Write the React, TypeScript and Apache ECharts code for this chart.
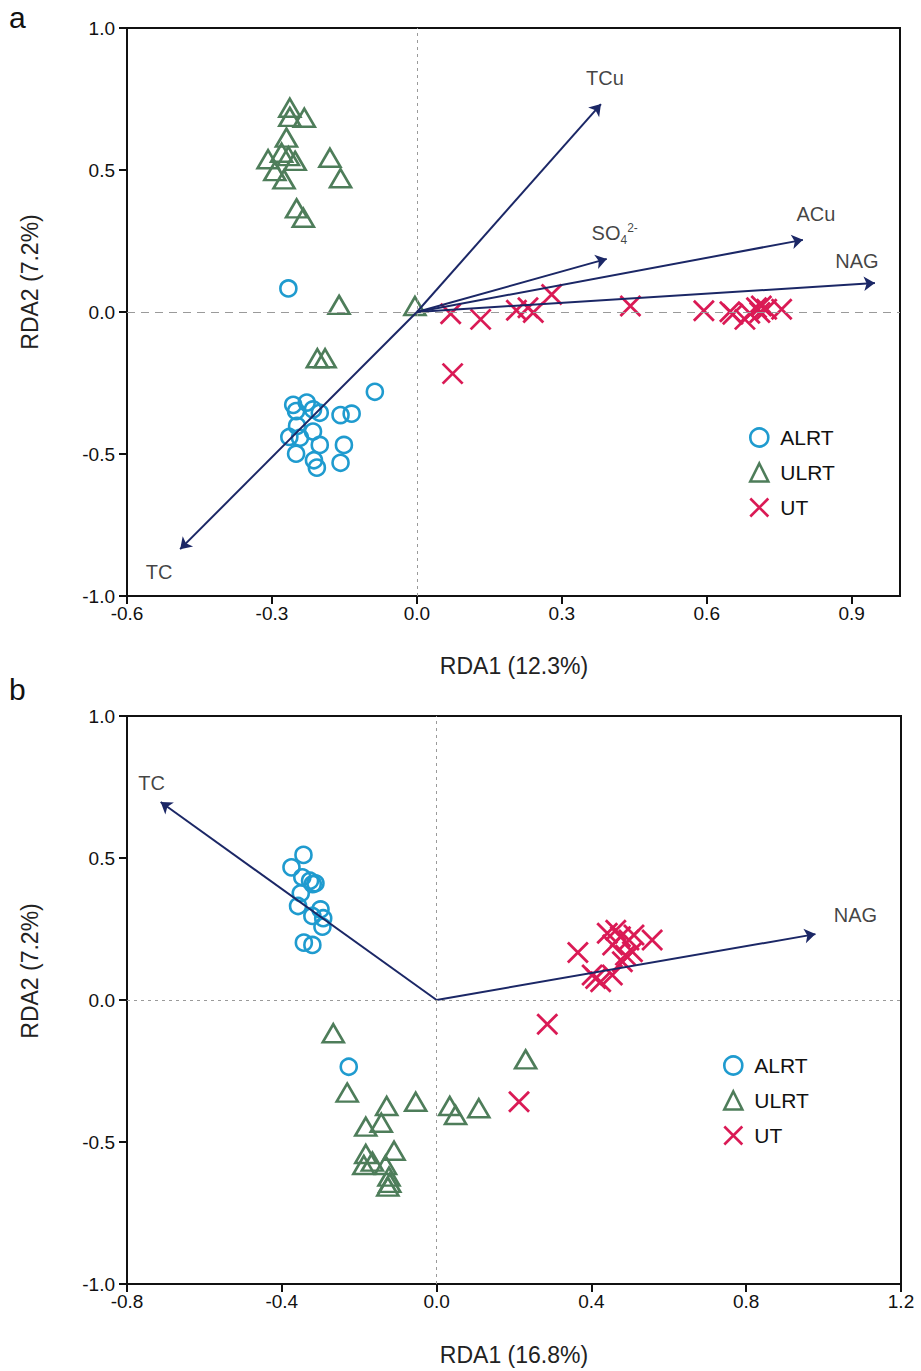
import React, { useEffect, useRef } from 'react';
import * as echarts from 'echarts';

// ---------- data: panel a ----------
const seriesNames = ['ALRT', 'ULRT', 'UT'];

const aALRT: number[][] = [
  [-0.266, 0.083], [-0.087, -0.281], [-0.256, -0.327], [-0.228, -0.319], [-0.215, -0.343],
  [-0.201, -0.355], [-0.25, -0.349], [-0.158, -0.363], [-0.135, -0.358], [-0.248, -0.401],
  [-0.215, -0.421], [-0.264, -0.44], [-0.242, -0.443], [-0.201, -0.468], [-0.25, -0.499],
  [-0.213, -0.522], [-0.207, -0.548], [-0.151, -0.468], [-0.158, -0.531],
];
const aULRT: number[][] = [
  [-0.263, 0.719], [-0.263, 0.687], [-0.233, 0.684], [-0.27, 0.614], [-0.308, 0.538],
  [-0.28, 0.561], [-0.266, 0.549], [-0.252, 0.532], [-0.294, 0.496], [-0.275, 0.467],
  [-0.18, 0.543], [-0.158, 0.471], [-0.249, 0.365], [-0.235, 0.332], [-0.161, 0.025],
  [-0.004, 0.021], [-0.206, -0.163], [-0.19, -0.163],
];
const aUT: number[][] = [
  [0.07, -0.006], [0.132, -0.026], [0.206, 0.006], [0.23, 0.015], [0.241, -0.002],
  [0.279, 0.062], [0.442, 0.021], [0.594, 0.004], [0.648, 0.001], [0.654, -0.008],
  [0.679, -0.026], [0.689, -0.004], [0.703, 0.015], [0.713, 0.021], [0.71, -0.002],
  [0.724, 0.01], [0.755, 0.01], [0.074, -0.217],
];
const aEnvNames = ['TCu', 'SO4', 'ACu', 'NAG', 'TC'];
const aEnvTips: number[][] = [
  [0.381, 0.732], [0.393, 0.187], [0.799, 0.254], [0.948, 0.102], [-0.49, -0.835],
];
const aLabelOffsets: number[][] = [[4, -26], [8, -26], [13, -26], [-18, -22], [-21, 23]];
const aXTicks = [-0.6, -0.3, 0, 0.3, 0.6, 0.9];

// ---------- data: panel b ----------
const bALRT: number[][] = [
  [-0.344, 0.511], [-0.375, 0.467], [-0.347, 0.432], [-0.327, 0.42], [-0.313, 0.411],
  [-0.32, 0.408], [-0.351, 0.376], [-0.358, 0.331], [-0.3, 0.319], [-0.321, 0.296],
  [-0.293, 0.288], [-0.295, 0.258], [-0.343, 0.202], [-0.321, 0.194], [-0.227, -0.235],
];
const bULRT: number[][] = [
  [-0.267, -0.117], [-0.231, -0.326], [-0.129, -0.373], [-0.054, -0.358], [0.034, -0.373],
  [0.049, -0.405], [0.109, -0.381], [0.23, -0.209], [-0.183, -0.446], [-0.143, -0.432],
  [-0.183, -0.542], [-0.166, -0.569], [-0.11, -0.531], [-0.132, -0.581], [-0.188, -0.581],
  [-0.123, -0.622], [-0.126, -0.657], [-0.121, -0.644],
];
const bUT: number[][] = [
  [0.365, 0.167], [0.441, 0.235], [0.463, 0.246], [0.475, 0.223], [0.497, 0.211],
  [0.51, 0.229], [0.557, 0.211], [0.488, 0.158], [0.506, 0.17], [0.48, 0.135],
  [0.411, 0.076], [0.402, 0.088], [0.454, 0.088], [0.424, 0.064], [0.455, 0.194],
  [0.286, -0.085], [0.213, -0.358],
];
const bEnvNames = ['TC', 'NAG'];
const bEnvTips: number[][] = [[-0.713, 0.697], [0.979, 0.232]];
const bLabelOffsets: number[][] = [[-9, -19], [40, -19]];

// ---------- style ----------
const FONT = '"Liberation Sans", Arial, sans-serif';
const BLUE = '#1f9bcf';
const GREEN = '#4e7d5a';
const RED = '#da1a55';
const NAVY = '#1b2766';
const CROSS = 'path://M0,0L20,20M20,0L0,20';

function pointSeries(name: string, data: number[][], gi: number, withZero: boolean) {
  const symbol = name === 'ALRT' ? 'circle' : name === 'ULRT' ? 'triangle' : CROSS;
  const size = name === 'ALRT' ? 16 : name === 'ULRT' ? [21, 18] : 20;
  const color = name === 'ALRT' ? BLUE : name === 'ULRT' ? GREEN : RED;
  const s: any = {
    type: 'scatter',
    name,
    data,
    xAxisIndex: gi,
    yAxisIndex: gi,
    symbol,
    symbolSize: size,
    itemStyle: { color: 'rgba(0,0,0,0)', borderColor: color, borderWidth: name === 'UT' ? 2.8 : 2.6, opacity: 1 },
    emphasis: { disabled: true },
    silent: true,
    z: 3,
  };
  if (withZero) {
    s.markLine = {
      silent: true,
      symbol: 'none',
      label: { show: false },
      emphasis: { disabled: true },
      data: [
        { yAxis: 0, lineStyle: { color: '#9a9a9a', width: 1, type: gi === 0 ? [8, 6] : [3, 4] } },
        { xAxis: 0, lineStyle: { color: '#9a9a9a', width: 1, type: [3, 4] } },
      ],
    };
  }
  return s;
}

function arrowSeries(tips: number[][], gi: number) {
  return {
    type: 'lines',
    coordinateSystem: 'cartesian2d',
    xAxisIndex: gi,
    yAxisIndex: gi,
    data: tips.map((t) => ({ coords: [[0, 0], t] })),
    symbol: ['none', 'arrow'],
    symbolSize: 11,
    lineStyle: { color: NAVY, width: 2, opacity: 1, curveness: 0 },
    silent: true,
    z: 4,
  };
}

function labelSeries(names: string[], tips: number[][], offsets: number[][], gi: number) {
  return {
    type: 'scatter',
    xAxisIndex: gi,
    yAxisIndex: gi,
    symbolSize: 1,
    itemStyle: { color: 'rgba(0,0,0,0)' },
    silent: true,
    z: 5,
    data: names.map((n, i) => ({
      name: n,
      value: tips[i],
      label: {
        show: true,
        position: 'inside',
        offset: offsets[i],
        formatter: n === 'SO4' ? '{a|SO}{b|4}{c|2-}' : n,
        fontFamily: FONT,
        fontSize: 20,
        color: '#111',
        rich: {
          a: { fontFamily: FONT, fontSize: 20, color: '#111', lineHeight: 30, verticalAlign: 'middle' },
          b: { fontFamily: FONT, fontSize: 12, color: '#111', lineHeight: 30, verticalAlign: 'bottom', padding: [0, 0, 2, 0] },
          c: { fontFamily: FONT, fontSize: 12, color: '#111', lineHeight: 30, verticalAlign: 'top', padding: [4, 0, 0, 0] },
        },
      },
    })),
  };
}

function xAxis(gi: number, min: number, max: number, interval: number, ticks?: number[]) {
  const ax: any = {
    type: 'value',
    gridIndex: gi,
    min,
    max,
    interval,
    splitLine: { show: false },
    axisLine: { show: true, onZero: false, lineStyle: { color: '#111', width: 2 } },
    axisTick: { show: true, inside: false, length: 8, lineStyle: { color: '#111', width: 2 } },
    axisLabel: {
      show: true,
      margin: 8,
      fontFamily: FONT,
      fontSize: 19,
      color: '#111',
      formatter: (v: number) => v.toFixed(1),
    },
  };
  if (ticks) {
    ax.axisTick.customValues = ticks;
    ax.axisLabel.customValues = ticks;
  }
  return ax;
}

function yAxis(gi: number) {
  return {
    type: 'value',
    gridIndex: gi,
    min: -1,
    max: 1,
    interval: 0.5,
    splitLine: { show: false },
    axisLine: { show: true, onZero: false, lineStyle: { color: '#111', width: 2 } },
    axisTick: { show: true, inside: false, length: 8, lineStyle: { color: '#111', width: 2 } },
    axisLabel: {
      show: true,
      margin: 12,
      fontFamily: FONT,
      fontSize: 19,
      color: '#111',
      formatter: (v: number) => v.toFixed(1),
    },
  };
}

function legend(left: number, top: number) {
  return {
    left,
    top,
    orient: 'vertical',
    itemGap: 14,
    itemWidth: 18,
    itemHeight: 18,
    itemStyle: { borderWidth: 2.6 },
    textStyle: { fontFamily: FONT, fontSize: 21, color: '#111', padding: [0, 0, 0, 7] },
    selectedMode: false,
    data: seriesNames,
  };
}

function axisName(text: string, x: number, y: number, vertical: boolean) {
  return {
    type: 'text',
    x,
    y,
    rotation: vertical ? Math.PI / 2 : 0,
    style: {
      text,
      fontFamily: FONT,
      fontSize: 23,
      fill: '#222',
      align: 'center',
      verticalAlign: 'middle',
    },
  };
}

const option: any = {
  animation: false,
  backgroundColor: '#fff',
  grid: [
    { left: 127, top: 28, width: 773, height: 568, show: true, borderColor: '#111', borderWidth: 2, backgroundColor: 'transparent' },
    { left: 127, top: 716, width: 774, height: 568, show: true, borderColor: '#111', borderWidth: 2, backgroundColor: 'transparent' },
  ],
  xAxis: [xAxis(0, -0.6, 1.0, 0.3, aXTicks), xAxis(1, -0.8, 1.2, 0.4)],
  yAxis: [yAxis(0), yAxis(1)],
  legend: [legend(744, 422), legend(718, 1050)],
  graphic: [
    { type: 'text', x: 9, y: 2, style: { text: 'a', fontFamily: FONT, fontSize: 30, fill: '#111' } },
    { type: 'text', x: 9, y: 674, style: { text: 'b', fontFamily: FONT, fontSize: 30, fill: '#111' } },
    axisName('RDA1 (12.3%)', 514, 666, false),
    axisName('RDA2 (7.2%)', 30, 282, true),
    axisName('RDA1 (16.8%)', 514, 1355, false),
    axisName('RDA2 (7.2%)', 30, 971, true),
  ],
  series: [
    pointSeries('ALRT', aALRT, 0, true),
    pointSeries('ULRT', aULRT, 0, false),
    pointSeries('UT', aUT, 0, false),
    arrowSeries(aEnvTips, 0),
    labelSeries(aEnvNames, aEnvTips, aLabelOffsets, 0),
    pointSeries('ALRT', bALRT, 1, true),
    pointSeries('ULRT', bULRT, 1, false),
    pointSeries('UT', bUT, 1, false),
    arrowSeries(bEnvTips, 1),
    labelSeries(bEnvNames, bEnvTips, bLabelOffsets, 1),
  ],
};

export default function App() {
  const ref = useRef<HTMLDivElement>(null);
  useEffect(() => {
    const chart = echarts.init(ref.current!, null, { renderer: 'svg' });
    chart.setOption(option);
    return () => chart.dispose();
  }, []);
  return (
    <div
      ref={ref}
      style={{ position: 'absolute', left: 0, top: 0, width: 921, height: 1371, background: '#fff' }}
    />
  );
}
